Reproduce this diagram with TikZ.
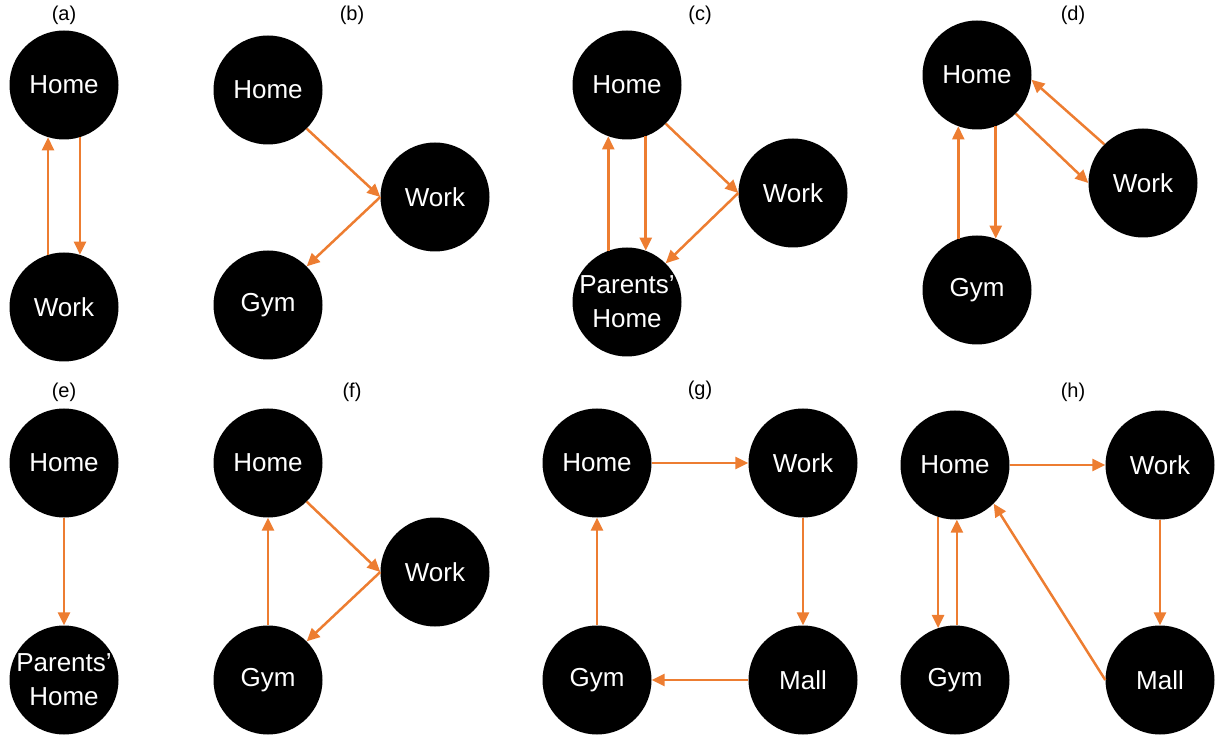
\documentclass[tikz,border=0pt]{standalone}
\usepackage{fontspec}
\setmainfont{Liberation Sans}
\usetikzlibrary{arrows.meta}
\definecolor{route}{RGB}{237,125,49}

\begin{document}
\begin{tikzpicture}[x=1pt,y=1pt,>={Triangle[length=13pt,width=12pt]},
    place/.style={circle,fill=black,minimum size=109pt,inner sep=0pt,text=white,align=center,font=\fontsize{26}{34}\selectfont},
    trip/.style={->,route,line width=2.5pt},
    tag/.style={font=\fontsize{20}{24}\selectfont}]
    \useasboundingbox (0,0) rectangle (1219,740);

    % (a)
    \node[tag] (ta) at (64,725) {(a)};
    \node[place] (ah) at (64,655) {Home};
    \node[place] (aw) at (64,433) {Work};
    \draw[trip] (aw.107) -- (ah.253);
    \draw[trip] (ah.287) -- (aw.73);

    % (b)
    \node[tag] (tb) at (352,725) {(b)};
    \node[place] (bh) at (268,650) {Home};
    \node[place] (bw) at (435,543) {Work};
    \node[place] (bg) at (268,435) {Gym};
    \draw[trip] (bh.-45) -- (bw.west);
    \draw[trip] (bw.west) -- (bg.45);

    % (c)
    \node[tag] (tc) at (700,725) {(c)};
    \node[place] (ch) at (627,655) {Home};
    \node[place] (cw) at (793,547) {Work};
    \node[place] (cp) at (627,438) {Parents'\\Home};
    \draw[trip] (ch.-45) -- (cw.west);
    \draw[trip] (cw.west) -- (cp.45);
    \draw[trip] (cp.110) -- (ch.250);
    \draw[trip] (ch.290) -- (cp.70);

    % (d)
    \node[tag] (td) at (1073,725) {(d)};
    \node[place] (dh) at (977,665) {Home};
    \node[place] (dw) at (1143,557) {Work};
    \node[place] (dg) at (977,450) {Gym};
    \draw[trip] (dh.-45) -- (dw.west);
    \draw[trip] (dw.135) -- (dh.-5);
    \draw[trip] (dg.110) -- (dh.250);
    \draw[trip] (dh.290) -- (dg.70);

    % (e)
    \node[tag] (te) at (64,348) {(e)};
    \node[place] (eh) at (64,277) {Home};
    \node[place] (ep) at (64,60) {Parents'\\Home};
    \draw[trip] (eh.south) -- (ep.north);

    % (f)
    \node[tag] (tf) at (352,348) {(f)};
    \node[place] (fh) at (268,277) {Home};
    \node[place] (fw) at (435,168) {Work};
    \node[place] (fg) at (268,60) {Gym};
    \draw[trip] (fh.-45) -- (fw.west);
    \draw[trip] (fw.west) -- (fg.45);
    \draw[trip] (fg.north) -- (fh.south);

    % (g)
    \node[tag] (tg) at (700,350) {(g)};
    \node[place] (gh) at (597,277) {Home};
    \node[place] (gw) at (803,277) {Work};
    \node[place] (gg) at (597,60) {Gym};
    \node[place] (gm) at (803,60) {Mall};
    \draw[trip] (gh.east) -- (gw.west);
    \draw[trip] (gw.south) -- (gm.north);
    \draw[trip] (gm.west) -- (gg.east);
    \draw[trip] (gg.north) -- (gh.south);

    % (h)
    \node[tag] (th) at (1073,348) {(h)};
    \node[place] (hh) at (955,275) {Home};
    \node[place] (hw) at (1160,275) {Work};
    \node[place] (hg) at (955,60) {Gym};
    \node[place] (hm) at (1160,60) {Mall};
    \draw[trip] (hh.east) -- (hw.west);
    \draw[trip] (hw.south) -- (hm.north);
    \draw[trip] (hh.252) -- (hg.108);
    \draw[trip] (hg.88) -- (hh.272);
    \draw[trip] (hm.west) -- (hh.-45);

\end{tikzpicture}
\end{document}
